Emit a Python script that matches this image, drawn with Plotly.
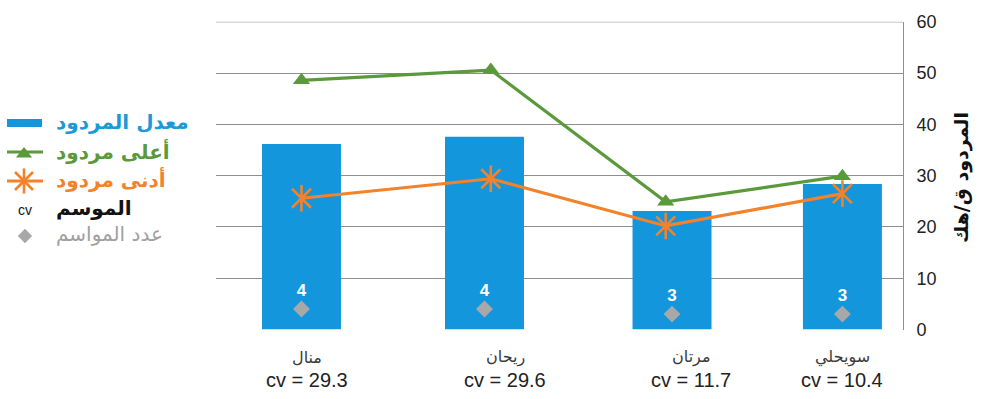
import plotly.graph_objects as go

# ---- data ----
varieties = ["منال", "ريحان", "مرتان", "سويحلي"]
cv_values = [29.3, 29.6, 11.7, 10.4]
mean_yield = [36.2, 37.6, 23.1, 28.4]      # معدل المردود
max_yield = [48.6, 50.6, 24.9, 29.9]       # أعلى مردود
min_yield = [25.6, 29.4, 20.2, 26.5]       # أدنى مردود
seasons = [4, 4, 3, 3]                     # عدد المواسم
y_ticks = [0, 10, 20, 30, 40, 50, 60]

# ---- layout positions of the four variety slots on the numeric x axis ----
bar_slots = [0, 1.015, 2.055, 3.0]
line_slots = [0, 1.05, 2.02, 3.0]
label_slots = [0.03, 1.13, 2.16, 3.0]

W, H = 983, 399
BLUE = "#1396DB"
GREEN = "#5A9A3C"
ORANGE = "#F3822B"
GREY = "#A8A8A8"
GRID = "#8E8E8E"
AR_FONT = "DejaVu Sans"
NUM_FONT = "Liberation Sans, Arial"

fig = go.Figure()

fig.add_trace(go.Bar(
    x=bar_slots, y=mean_yield, width=0.438,
    marker=dict(color=BLUE, line=dict(width=0)),
    xaxis="x", yaxis="y", showlegend=False,
))

fig.add_trace(go.Scatter(
    x=line_slots, y=max_yield, mode="lines+markers",
    line=dict(color=GREEN, width=3.2),
    marker=dict(symbol="triangle-up", size=15, color=GREEN),
    xaxis="x", yaxis="y", showlegend=False,
))

fig.add_trace(go.Scatter(
    x=line_slots, y=min_yield, mode="lines",
    line=dict(color=ORANGE, width=3.2),
    xaxis="x", yaxis="y", showlegend=False,
))
# star marker: an X plus a vertical stroke
for sym in ["x-thin-open", "line-ns-open"]:
    fig.add_trace(go.Scatter(
        x=line_slots, y=min_yield, mode="markers",
        marker=dict(symbol=sym, size=19, color=ORANGE,
                    line=dict(color=ORANGE, width=2.6)),
        xaxis="x", yaxis="y", showlegend=False,
    ))

fig.add_trace(go.Scatter(
    x=bar_slots, y=seasons, mode="markers+text",
    marker=dict(symbol="diamond", size=13, color=GREY),
    text=[f"<b>{s}</b>" for s in seasons], textposition="top center",
    textfont=dict(color="white", size=17, family=NUM_FONT),
    xaxis="x", yaxis="y", showlegend=False, cliponaxis=False,
))

# top frame gridline at the axis maximum
fig.add_shape(type="line", xref="x domain", yref="y", x0=0, x1=1,
              y0=y_ticks[-1], y1=y_ticks[-1], line=dict(color=GRID, width=1),
              layer="below")

# ---- legend glyphs (drawn on a full-canvas helper axis in pixel units) ----
legend_items_y = [123, 152, 181]
fig.add_shape(type="rect", x0=7, x1=42, y0=119, y1=127, xref="x2", yref="y2",
              fillcolor=BLUE, line=dict(width=0))
fig.add_shape(type="line", x0=7, x1=43, y0=legend_items_y[1], y1=legend_items_y[1],
              xref="x2", yref="y2", line=dict(color=GREEN, width=3))
fig.add_shape(type="line", x0=7, x1=43, y0=legend_items_y[2], y1=legend_items_y[2],
              xref="x2", yref="y2", line=dict(color=ORANGE, width=3))
fig.add_trace(go.Scatter(
    x=[24], y=[legend_items_y[1] + 2], mode="markers",
    marker=dict(symbol="triangle-up", size=14, color=GREEN),
    xaxis="x2", yaxis="y2", showlegend=False,
))
for sym in ["x-thin-open", "line-ns-open"]:
    fig.add_trace(go.Scatter(
        x=[24], y=[legend_items_y[2]], mode="markers",
        marker=dict(symbol=sym, size=18, color=ORANGE,
                    line=dict(color=ORANGE, width=2.6)),
        xaxis="x2", yaxis="y2", showlegend=False,
    ))
fig.add_trace(go.Scatter(
    x=[25], y=[236], mode="markers",
    marker=dict(symbol="diamond", size=11, color=GREY),
    xaxis="x2", yaxis="y2", showlegend=False,
))

annotations = []
legend_texts = [
    ("<b>معدل المردود</b>", 122, "#1C9AD6"),
    ("<b>أعلى مردود</b>", 151, GREEN),
    ("<b>أدنى مردود</b>", 179, ORANGE),
    ("<b>الموسم</b>", 208, "#111111"),
    ("عدد المواسم", 234, "#A0A0A0"),
]
for txt, yy, col in legend_texts:
    annotations.append(dict(
        x=54, y=yy, xref="x2", yref="y2", text=txt, showarrow=False,
        xanchor="left", yanchor="middle",
        font=dict(family=AR_FONT, size=20, color=col),
    ))
annotations.append(dict(
    x=25, y=210, xref="x2", yref="y2", text="cv", showarrow=False,
    xanchor="center", yanchor="middle",
    font=dict(family=NUM_FONT, size=14, color="#111111"),
))

# y-axis title on the right, reading from the top down
annotations.append(dict(
    x=961, y=178, xref="x2", yref="y2", text="<b>المردود ق/هك</b>",
    showarrow=False, textangle=-90, xanchor="center", yanchor="middle",
    font=dict(family=AR_FONT, size=19, color="#111111"),
))

# variety names and their cv values under each slot
for pos, name, cv in zip(label_slots, varieties, cv_values):
    annotations.append(dict(
        x=pos, y=357, xref="x", yref="y2", text=name, showarrow=False,
        xanchor="center", yanchor="middle",
        font=dict(family=AR_FONT, size=16, color="#3A3A3A"),
    ))
    annotations.append(dict(
        x=pos, y=380, xref="x", yref="y2", text=f"cv = {cv}", showarrow=False,
        xanchor="center", yanchor="middle",
        font=dict(family=NUM_FONT, size=20, color="#222222"),
    ))

x_left_px, x_right_px = 216, 903
y_top_px, y_bottom_px = 21.7, 329.5

fig.update_layout(
    width=W, height=H,
    margin=dict(l=0, r=0, t=0, b=0),
    paper_bgcolor="white",
    plot_bgcolor="rgba(0,0,0,0)",
    showlegend=False,
    annotations=annotations,
    xaxis=dict(
        domain=[x_left_px / W, x_right_px / W],
        range=[-0.474, 3.336], automargin=False,
        showgrid=False, zeroline=False, showline=False,
        showticklabels=False, ticks="",
    ),
    yaxis=dict(
        domain=[(H - y_bottom_px) / H, (H - y_top_px) / H],
        range=[0, 60.03], side="right", automargin=False,
        tickvals=y_ticks, ticks="",
        tickfont=dict(family=NUM_FONT, size=18, color="#222222"),
        ticklabelstandoff=9,
        showgrid=True, gridcolor=GRID, gridwidth=1,
        showline=True, linecolor=GRID, linewidth=1,
        zeroline=False,
    ),
    xaxis2=dict(domain=[0, 1], range=[0, W], visible=False, anchor="y2",
                automargin=False),
    yaxis2=dict(domain=[0, 1], range=[H, 0], visible=False, anchor="x2",
                automargin=False),
)

fig.write_html("out.html")
